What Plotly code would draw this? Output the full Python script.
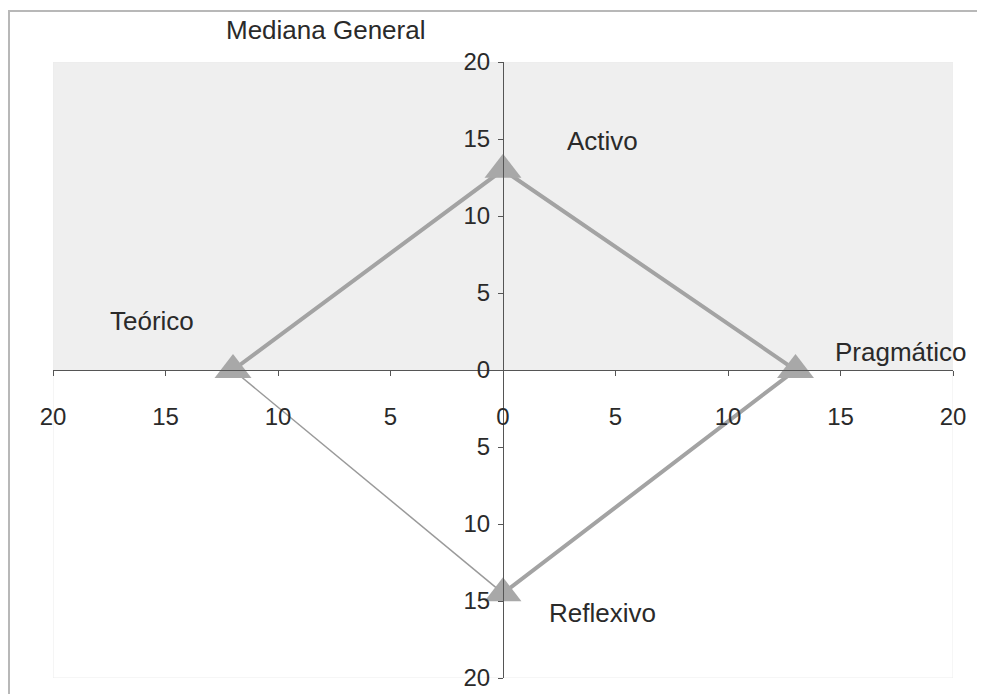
import plotly.graph_objects as go

# Data
categories = ["Activo", "Pragmático", "Reflexivo", "Teórico"]
x_vals = [0, 13, 0, -12]
y_vals = [13, 0, -14.5, 0]
tick_vals = [-20, -15, -10, -5, 0, 5, 10, 15, 20]
tick_text = ["20", "15", "10", "5", "0", "5", "10", "15", "20"]
title_text = "Mediana General"

FONT = "Arial, Liberation Sans, sans-serif"
FS_TICK = 24
FS_LABEL = 26

fig = go.Figure()

# thick segments: Teórico -> Activo -> Pragmático -> Reflexivo
order_thick = [3, 0, 1, 2]
fig.add_trace(go.Scatter(
    x=[x_vals[i] for i in order_thick],
    y=[y_vals[i] for i in order_thick],
    mode="lines",
    line=dict(color="#a3a3a3", width=4),
    hoverinfo="skip", showlegend=False))
# thin segment: Reflexivo -> Teórico
order_thin = [2, 3]
fig.add_trace(go.Scatter(
    x=[x_vals[i] for i in order_thin],
    y=[y_vals[i] for i in order_thin],
    mode="lines",
    line=dict(color="#9a9a9a", width=1.5),
    hoverinfo="skip", showlegend=False))
# markers
fig.add_trace(go.Scatter(
    x=x_vals, y=y_vals, mode="markers",
    marker=dict(symbol="triangle-up", size=32, color="#a8a8a8",
                line=dict(width=0)),
    text=categories, hoverinfo="text", showlegend=False))

# category labels (positions in data units)
label_pos = {
    "Activo": (4.4, 14.9),
    "Pragmático": (17.7, 1.2),
    "Reflexivo": (4.4, -15.75),
    "Teórico": (-15.6, 3.2),
}
for c in categories:
    lx, ly = label_pos[c]
    fig.add_annotation(x=lx, y=ly, text=c, showarrow=False,
                       font=dict(family=FONT, size=FS_LABEL, color="#2a2a2a"),
                       xanchor="center", yanchor="middle")

# title
fig.add_annotation(x=-7.9, y=1.052, yref="paper", xref="x",
                   text=title_text, showarrow=False,
                   xanchor="center", yanchor="middle",
                   font=dict(family=FONT, size=FS_LABEL, color="#2a2a2a"))

shapes = [
    # grey upper half background
    dict(type="rect", xref="x", yref="y", x0=-20, x1=20, y0=0, y1=20,
         fillcolor="#efefef", line=dict(width=0), layer="below"),
    # faint plot area border
    dict(type="rect", xref="x", yref="y", x0=-20, x1=20, y0=-20, y1=20,
         fillcolor="rgba(0,0,0,0)", line=dict(color="#ececec", width=1), layer="below"),
    # outer chart border
    dict(type="rect", xref="paper", yref="paper", x0=-0.0489, x1=1.06,
         y0=-0.05, y1=1.0828,
         fillcolor="rgba(0,0,0,0)", line=dict(color="#b8b8b8", width=2), layer="below"),
]

fig.update_layout(
    width=985, height=694,
    margin=dict(l=45, r=40, t=54, b=24),
    paper_bgcolor="white", plot_bgcolor="white",
    shapes=shapes,
    xaxis=dict(range=[-20, 20], anchor="free", position=0.5,
               tickvals=tick_vals, ticktext=tick_text,
               showline=True, linecolor="#555555", linewidth=1,
               ticks="outside", ticklen=5, tickcolor="#555555",
               ticklabelstandoff=20,
               showgrid=False, zeroline=False,
               tickfont=dict(family=FONT, size=FS_TICK, color="#2a2a2a")),
    yaxis=dict(range=[-20, 20], anchor="free", position=0.5,
               tickvals=tick_vals, ticktext=tick_text,
               showline=True, linecolor="#555555", linewidth=1,
               ticks="outside", ticklen=5, tickcolor="#555555",
               ticklabelstandoff=3,
               showgrid=False, zeroline=False,
               tickfont=dict(family=FONT, size=FS_TICK, color="#2a2a2a")),
)

fig.write_html("out.html")
